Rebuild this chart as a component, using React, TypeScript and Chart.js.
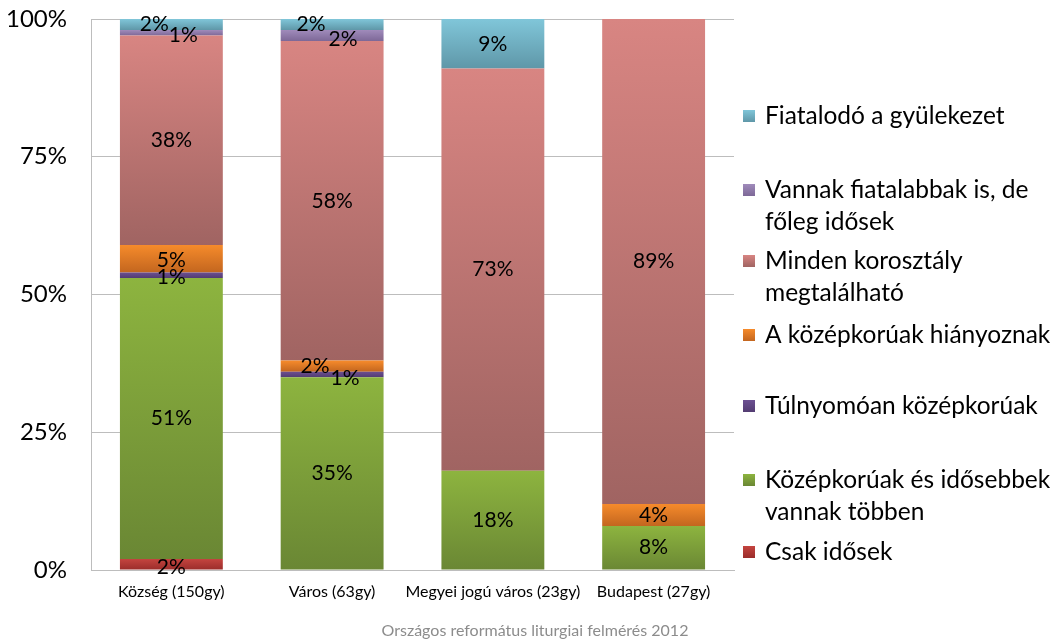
import React, { useEffect, useRef } from "react";
import { Chart, registerables } from "chart.js";

Chart.register(...registerables);

const categories = ["Község (150gy)", "Város (63gy)", "Megyei jogú város (23gy)", "Budapest (27gy)"];

// bottom to top of each bar
const csakIdosek = [2, 0, 0, 0];
const kozepEsIdosebbek = [51, 35, 18, 8];
const tulnyomoanKozep = [1, 1, 0, 0];
const kozepHianyoznak = [5, 2, 0, 4];
const mindenKorosztaly = [38, 58, 73, 89];
const vannakFiatalabbak = [1, 2, 0, 0];
const fiatalodo = [2, 2, 9, 0];

const yTicks = [0, 25, 50, 75, 100];
const footnote = "Országos református liturgiai felmérés 2012";

const seriesNames = [
  "Csak idősek",
  "Középkorúak és idősebbek vannak többen",
  "Túlnyomóan középkorúak",
  "A középkorúak hiányoznak",
  "Minden korosztály megtalálható",
  "Vannak fiatalabbak is, de főleg idősek",
  "Fiatalodó a gyülekezet",
];
const legendLines = [
  ["Csak idősek"],
  ["Középkorúak és idősebbek", "vannak többen"],
  ["Túlnyomóan középkorúak"],
  ["A középkorúak hiányoznak"],
  ["Minden korosztály", "megtalálható"],
  ["Vannak fiatalabbak is, de", "főleg idősek"],
  ["Fiatalodó a gyülekezet"],
];
const seriesData = [csakIdosek, kozepEsIdosebbek, tulnyomoanKozep, kozepHianyoznak, mindenKorosztaly, vannakFiatalabbak, fiatalodo];

// gradient colours [top, bottom]
const gradColors: [string, string][] = [
  ["#C4443F", "#9A2C2A"],
  ["#8DB43F", "#6A8734"],
  ["#6C5092", "#533C72"],
  ["#F68B2B", "#C3661F"],
  ["#D88582", "#A06462"],
  ["#A08BBB", "#7D6897"],
  ["#80C6D9", "#5F97A8"],
];

// label offsets (style) keyed "dataset-index"
const labelOffsets: Record<string, [number, number]> = {
  "6-0": [-17, 0],
  "5-0": [12, 2],
  "6-1": [-21, 0],
  "5-1": [11, 4],
  "3-0": [0, 2],
  "2-0": [0, 2],
  "3-1": [-17, 0],
  "2-1": [13, 4],
  "0-0": [0, 3],
};

const legendY = [552, 480, 406, 335, 261, 190, 116];

const FONT = "Lato, 'Open Sans', sans-serif";

export default function App() {
  const ref = useRef<HTMLCanvasElement | null>(null);

  useEffect(() => {
    if (!ref.current) return;

    const labelPlugin = {
      id: "segLabels",
      afterDatasetsDraw(chart: any) {
        const c = chart.ctx;
        c.save();
        c.font = `21px ${FONT}`;
        c.fillStyle = "#000";
        c.textAlign = "center";
        c.textBaseline = "middle";
        chart.data.datasets.forEach((ds: any, di: number) => {
          const meta = chart.getDatasetMeta(di);
          meta.data.forEach((el: any, i: number) => {
            const v = ds.data[i];
            if (!v) return;
            const top = Math.max(el.y, chart.chartArea.top);
            const yc = (top + el.base) / 2;
            const off = labelOffsets[`${di}-${i}`] || [0, 0];
            c.fillText(`${v}%`, el.x + off[0], yc + off[1]);
          });
        });
        c.restore();
      },
    };

    const legendPlugin = {
      id: "customLegend",
      afterDraw(chart: any) {
        const c = chart.ctx;
        c.save();
        c.font = `24.5px ${FONT}`;
        c.fillStyle = "#000";
        c.textAlign = "left";
        c.textBaseline = "middle";
        legendLines.forEach((lines, k) => {
          const y = legendY[k];
          const g = c.createLinearGradient(0, y - 6, 0, y + 6);
          g.addColorStop(0, gradColors[k][0]);
          g.addColorStop(1, gradColors[k][1]);
          c.fillStyle = g;
          c.fillRect(743, y - 6, 12, 12);
          c.fillStyle = "#000";
          lines.forEach((t, j) => c.fillText(t, 765, y + j * 32));
        });
        c.font = `16px ${FONT}`;
        c.fillStyle = "#8C8C8C";
        c.textAlign = "center";
        c.fillText(footnote, 535, 631);
        c.restore();
      },
    };

    const chart = new Chart(ref.current, {
      type: "bar",
      data: {
        labels: categories,
        datasets: seriesData.map((d, k) => ({
          label: seriesNames[k],
          data: d,
          borderWidth: 0,
          categoryPercentage: 1,
          barPercentage: 0.64,
          backgroundColor: (ctx: any) => {
            const ch = ctx.chart;
            const base = gradColors[k][0];
            if (ctx.type !== "data" || !ch.chartArea || !ch.scales.y) return base;
            const i = ctx.dataIndex;
            let start = 0;
            for (let q = 0; q < k; q++) start += seriesData[q][i];
            const end = start + seriesData[k][i];
            const ys = ch.scales.y;
            let y0 = ys.getPixelForValue(Math.min(end, 100));
            let y1 = ys.getPixelForValue(start);
            if (!isFinite(y0) || !isFinite(y1) || y1 - y0 < 0.5) return base;
            const g = ch.ctx.createLinearGradient(0, y0, 0, y1);
            g.addColorStop(0, gradColors[k][0]);
            g.addColorStop(1, gradColors[k][1]);
            return g;
          },
        })),
      },
      options: {
        animation: false,
        responsive: true,
        maintainAspectRatio: false,
        layout: { padding: { top: 19, right: 323, left: 0, bottom: 0 } },
        plugins: {
          legend: { display: false },
          tooltip: { enabled: false },
          title: { display: false },
        },
        scales: {
          x: {
            stacked: true,
            grid: { display: false, drawTicks: false },
            border: { display: true, color: "#BDBDBD", width: 1 },
            ticks: { color: "#000", font: { family: FONT, size: 16 }, padding: 12, maxRotation: 0, autoSkip: false },
            afterFit: (s: any) => { s.height = 71; s.paddingLeft = 0; s.paddingRight = 0; },
          },
          y: {
            stacked: true,
            min: 0,
            max: 100,
            afterBuildTicks: (s: any) => { s.ticks = yTicks.map((v) => ({ value: v })); },
            grid: { color: "#BDBDBD", drawTicks: false, lineWidth: 1 },
            border: { display: true, color: "#BDBDBD", width: 1 },
            ticks: {
              color: "#000",
              font: { family: FONT, size: 24 },
              padding: 24,
              callback: (v: any) => `${v}%`,
            },
            afterFit: (s: any) => { s.width = 91; s.paddingTop = 0; s.paddingBottom = 0; },
          },
        },
      },
      plugins: [labelPlugin, legendPlugin],
    });
    return () => chart.destroy();
  }, []);

  return (
    <div style={{ position: "absolute", left: 0, top: 0, width: 1057, height: 641, background: "#fff" }}>
      <canvas ref={ref} />
    </div>
  );
}
